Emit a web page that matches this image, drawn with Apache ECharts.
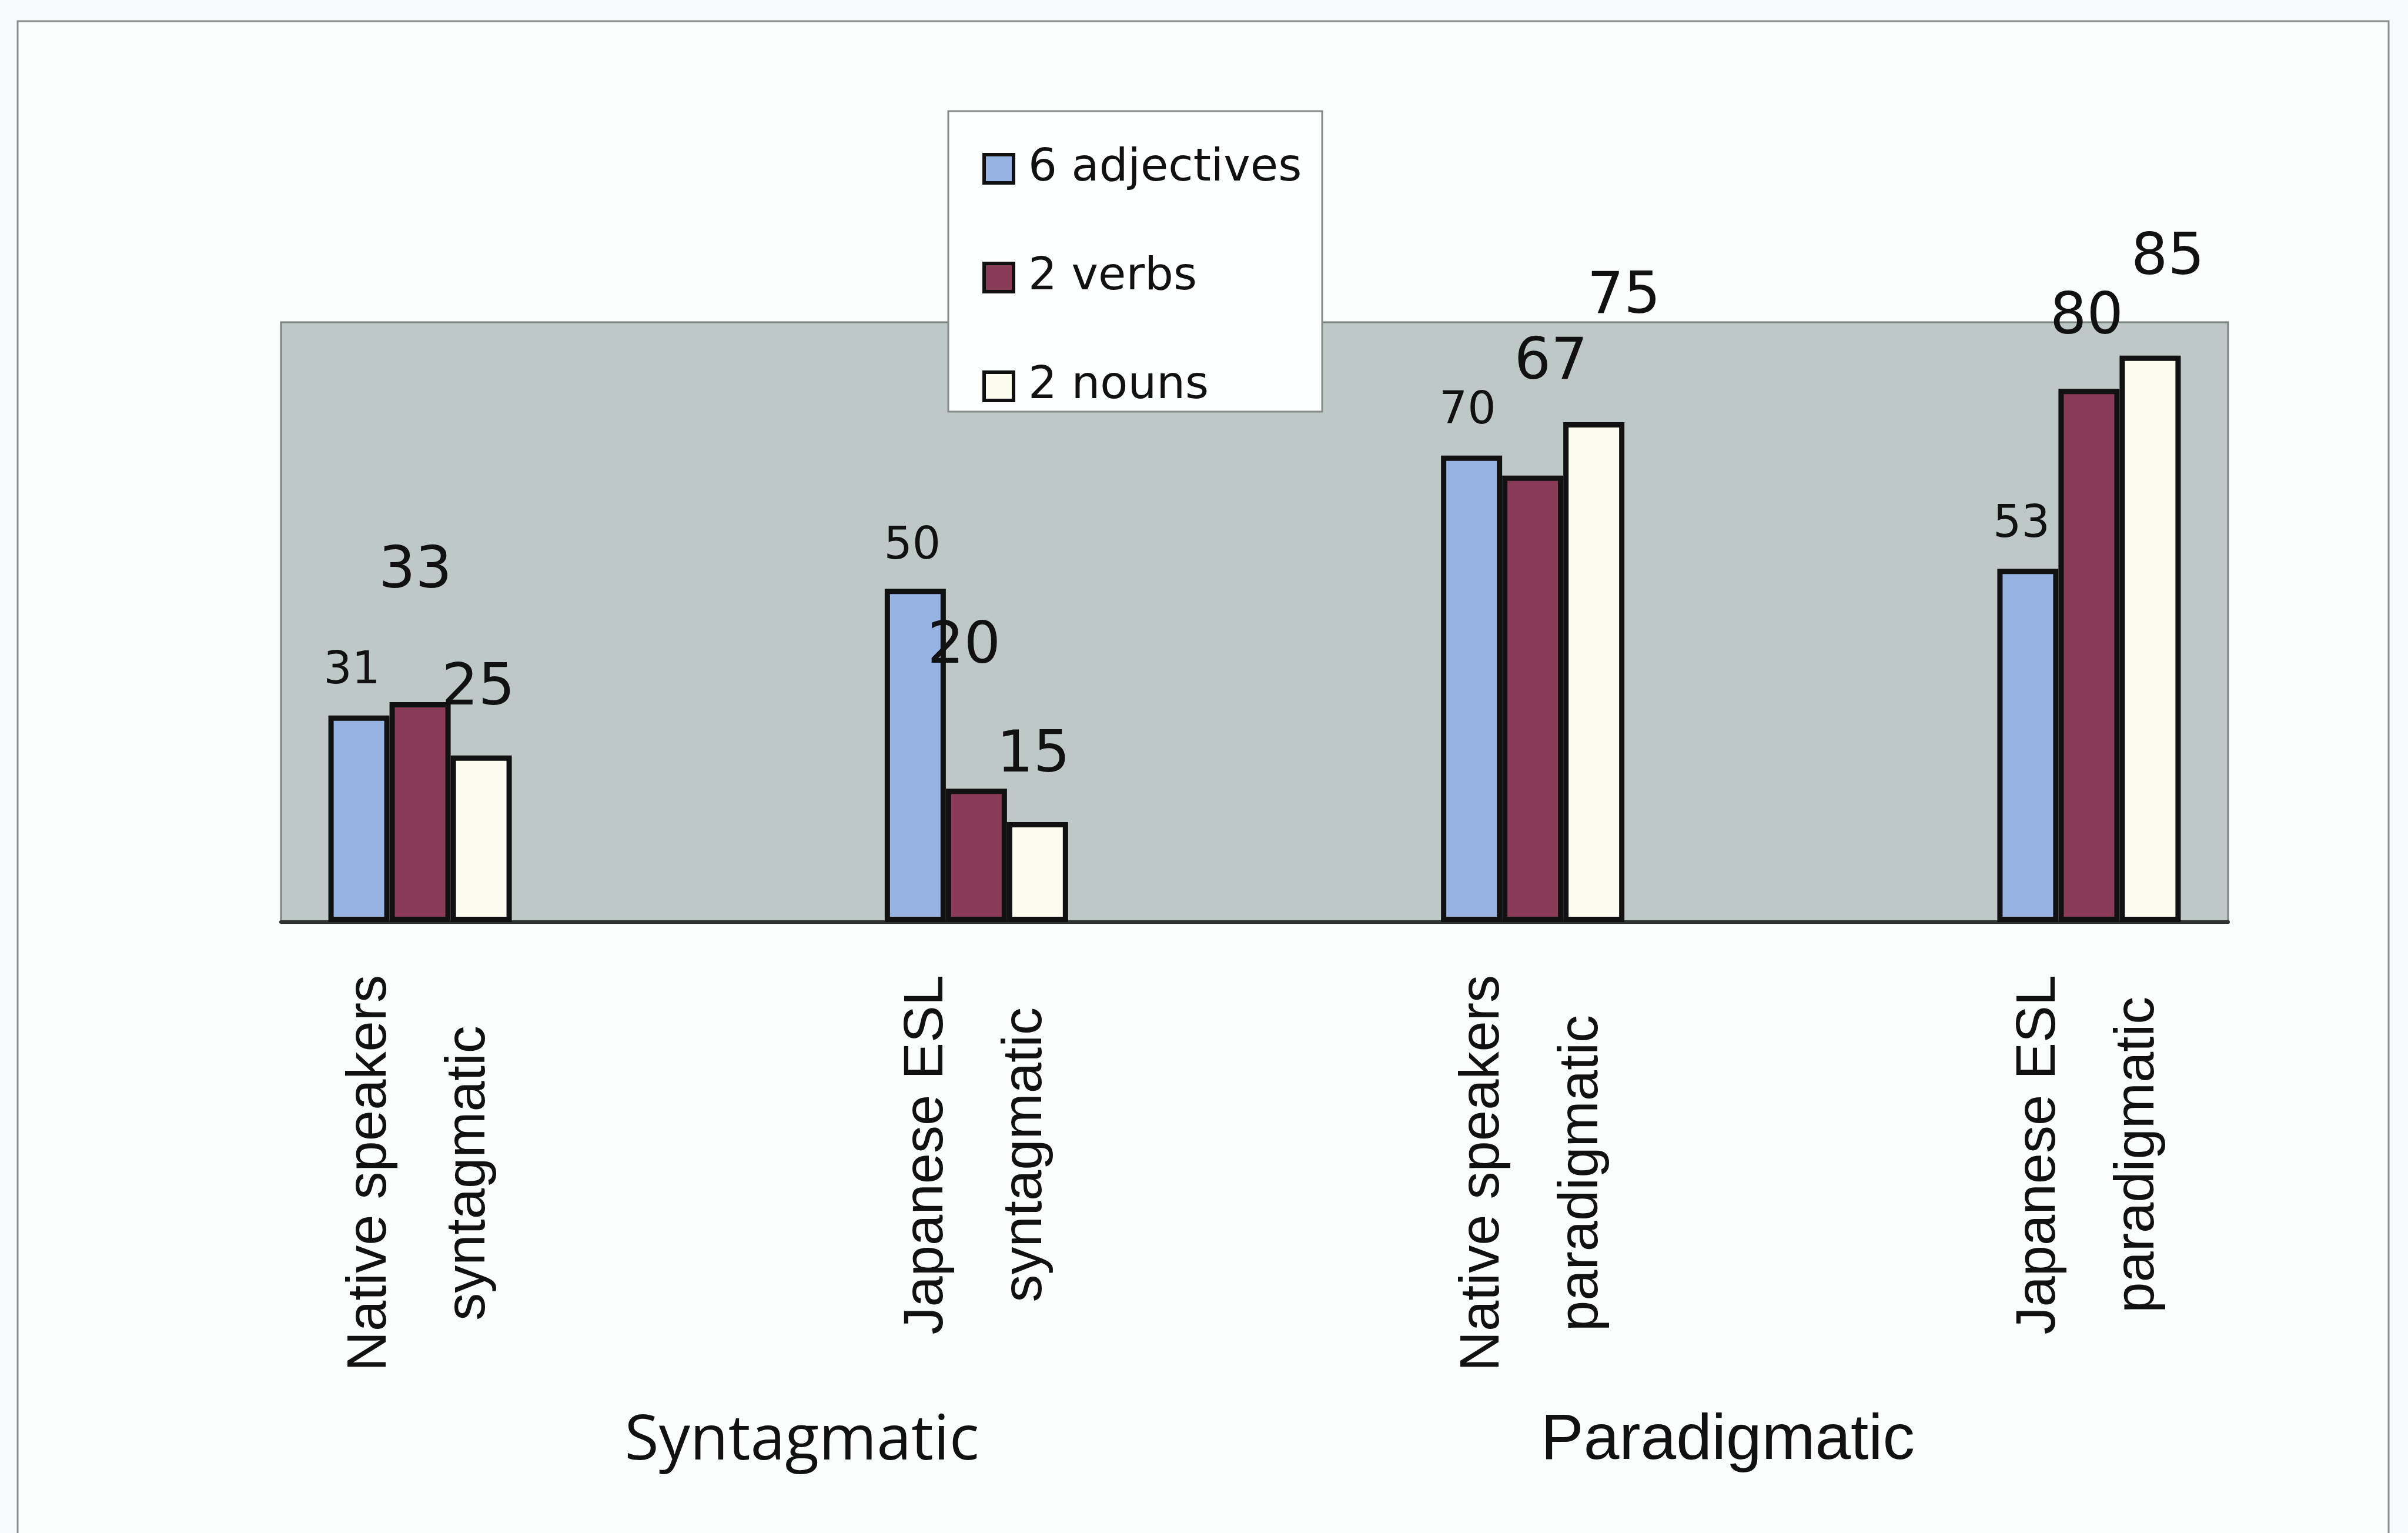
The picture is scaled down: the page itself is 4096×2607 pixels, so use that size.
<!DOCTYPE html>
<html>
<head>
<meta charset="utf-8">
<script src="https://cdn.jsdelivr.net/npm/echarts@6/dist/echarts.min.js"></script>
<style>
  html, body { margin: 0; padding: 0; background: #f6fafa; }
  #chart { width: 4096px; height: 2607px; }
</style>
</head>
<body>
<div id="chart"></div>
<script>
// values (% of first answers)
var categories = ['Native speakers\nsyntagmatic', '', 'Japanese ESL\nsyntagmatic', '', 'Native speakers\nparadigmatic', '', 'Japanese ESL\nparadigmatic'];
var seriesNames = ['6 adjectives', '2 verbs', '2 nouns'];
var adjectives = [31, null, 50, null, 70, null, 53];
var verbs = [33, null, 20, null, 67, null, 80];
var nouns = [25, null, 15, null, 75, null, 85];
var groupLabels = ['Syntagmatic', 'Paradigmatic'];
var yMax = 90;

// value labels are scattered in the scan: [dx, dy, fontSize] from the default top spot
var labelPlace = [
    [[-12, -31, 76], null, [-5, -28, 76], null, [-7, -31, 76], null, [-11, -31, 76]],
    [[-8, -166, 98], null, [-21, -186, 98], null, [31, -136, 98], null, [-4, -66, 98]],
    [[-5, -58, 98], null, [-7, -57, 98], null, [51, -157, 98], null, [30, -110, 98]]
];
var colors = ['#96b3e3', '#8a3b57', '#fcfdef'];

var chart = echarts.init(document.getElementById('chart'));

var series = [adjectives, verbs, nouns].map(function (vals, i) {
    return {
        name: seriesNames[i],
        type: 'bar',
        barWidth: 104,
        barGap: '0%',
        z: 3,
        itemStyle: { color: colors[i], borderColor: '#111', borderWidth: 9 },
        label: { show: true, position: 'top', distance: 5, color: '#111', fontFamily: 'DejaVu Sans' },
        data: vals.map(function (v, j) {
            if (v == null) return '-';
            var p = labelPlace[i][j];
            return { value: v, label: { offset: [p[0], p[1]], fontSize: p[2] } };
        })
    };
});

var option = {
    backgroundColor: '#f6fafa',
    animation: false,
    grid: {
        left: 478, right: 306, top: 548, bottom: 1039,
        show: true,
        backgroundColor: '#bec8c6',
        borderColor: '#7a8280',
        borderWidth: 3
    },
    legend: {
        orient: 'vertical',
        left: 1671, top: 247,
        padding: 0,
        icon: 'rect',
        itemWidth: 50, itemHeight: 48, itemGap: 105,
        z: 20,
        itemStyle: { borderColor: '#111', borderWidth: 6 },
        textStyle: { fontFamily: 'DejaVu Sans', fontSize: 77, lineHeight: 80, color: '#111', padding: [0, 0, 0, 20] },
        data: seriesNames
    },
    xAxis: {
        type: 'category',
        data: categories,
        axisLine: { lineStyle: { color: '#2f3433', width: 6 } },
        axisTick: { inside: true, length: 30, lineStyle: { color: '#4f5655', width: 3 } },
        axisLabel: {
            interval: 0,
            rotate: 90,
            margin: 90,
            formatter: function (v) {
                if (!v) return '';
                return v.split('\n').map(function (s) { return '{c|' + s + '}'; }).join('\n');
            },
            rich: {
                c: { align: 'center', fontFamily: 'Liberation Sans', fontSize: 94, lineHeight: 168, color: '#111' }
            }
        }
    },
    yAxis: { type: 'value', min: 0, max: yMax, show: false },
    graphic: [
        {   // outer frame of the chart object
            type: 'rect', z: -5,
            shape: { x: 30, y: 36, width: 4033, height: 2700 },
            style: { fill: '#fbfdfd', stroke: '#8a8f8e', lineWidth: 3 }
        },
        {   // legend box
            type: 'rect', z: 10,
            shape: { x: 1613, y: 189, width: 636, height: 511 },
            style: { fill: '#fdfefe', stroke: '#858b8a', lineWidth: 3 }
        },
        {
            type: 'text', z: 10, x: 1364, y: 2452,
            style: { text: groupLabels[0], font: '106px "Open Sans"', fill: '#111', align: 'center', verticalAlign: 'middle' }
        },
        {
            type: 'text', z: 10, x: 2939, y: 2451,
            style: { text: groupLabels[1], font: '109px "Liberation Sans"', fill: '#111', align: 'center', verticalAlign: 'middle' }
        }
    ],
    series: series
};

chart.setOption(option);
</script>
</body>
</html>
